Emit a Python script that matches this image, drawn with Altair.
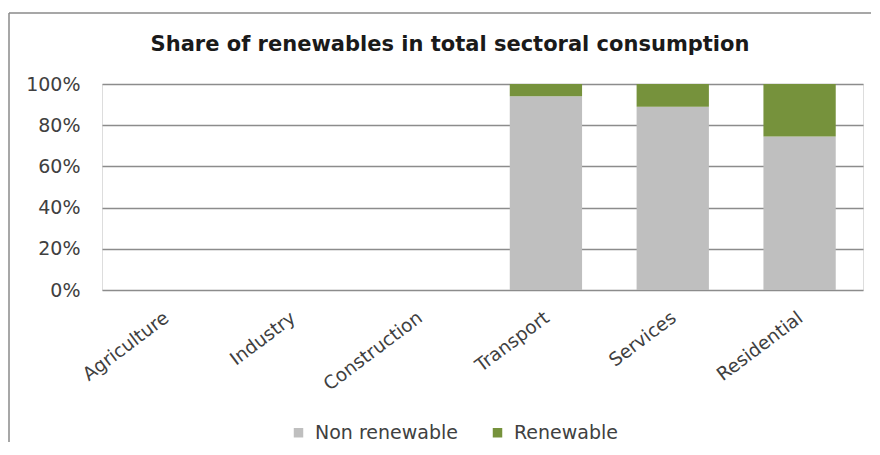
import altair as alt
import pandas as pd

# ---- data ----
sectors = ["Agriculture", "Industry", "Construction", "Transport", "Services", "Residential"]
non_renewable = [None, None, None, 0.94, 0.89, 0.745]
renewable = [None, None, None, 0.06, 0.11, 0.255]
series = ["Non renewable", "Renewable"]
series_colors = ["#BFBFBF", "#76923C"]
y_ticks = [0, 0.2, 0.4, 0.6, 0.8, 1.0]
chart_title = "Share of renewables in total sectoral consumption"

rows = []
for s, nr, r in zip(sectors, non_renewable, renewable):
    rows.append({"sector": s, "type": series[0], "value": nr, "ord": 0})
    rows.append({"sector": s, "type": series[1], "value": r, "ord": 1})
df = pd.DataFrame(rows)

W, H = 761, 206
FONT = "DejaVu Sans"

bars = alt.Chart(df).mark_bar().encode(
    x=alt.X("sector:N", sort=sectors,
            scale=alt.Scale(domain=sectors, paddingInner=0.43, paddingOuter=0.215),
            axis=alt.Axis(title=None, labelAngle=-37, labelAlign="right", labelBaseline="middle",
                          labelPadding=25, labelOffset=1, ticks=False, domain=False,
                          labelFont=FONT, labelFontSize=18.5, labelColor="#404040", grid=False)),
    y=alt.Y("value:Q", stack="zero",
            scale=alt.Scale(domain=[0, 1], nice=False),
            axis=alt.Axis(title=None, values=y_ticks, format=".0%", ticks=False, domain=False,
                          labelPadding=22, labelFont=FONT, labelFontSize=19, labelColor="#404040",
                          grid=True, gridColor="#8c8c8c", gridWidth=1.5)),
    color=alt.Color("type:N", scale=alt.Scale(domain=series, range=series_colors),
                    legend=alt.Legend(title=None, orient="none", direction="horizontal",
                                      legendX=187, legendY=339, symbolType="square",
                                      symbolSize=90, symbolStrokeWidth=0, labelOffset=7,
                                      columnPadding=30, labelFont=FONT, labelFontSize=19,
                                      labelColor="#404040")),
    order=alt.Order("ord:Q"),
)

one = pd.DataFrame({"t": [chart_title]})

title_text = alt.Chart(one).mark_text(
    font=FONT, fontSize=21, fontWeight="bold", color="#1a1a1a", align="center", baseline="middle"
).encode(x=alt.value(348), y=alt.value(-39), text="t:N")

frame_top = alt.Chart(one).mark_rule(color="#8a8a8a", strokeWidth=1.5).encode(
    x=alt.value(-93), x2=alt.value(769), y=alt.value(-71))
frame_left = alt.Chart(one).mark_rule(color="#8a8a8a", strokeWidth=1.5).encode(
    x=alt.value(-93), y=alt.value(-71), y2=alt.value(358))

chart = alt.layer(bars, title_text, frame_top, frame_left).properties(
    width=W, height=H,
    padding={"left": 0, "top": 4, "right": 0, "bottom": 0},
).configure_view(stroke=None).configure(background="white")

chart.save("out.html", embed_options={"renderer": "svg", "actions": False})
